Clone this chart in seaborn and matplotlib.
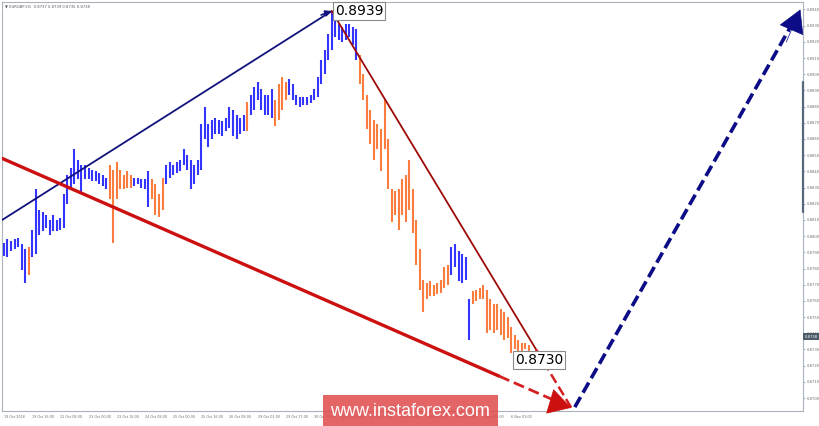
import numpy as np
import pandas as pd
import matplotlib
matplotlib.use("Agg")
import matplotlib.pyplot as plt
import matplotlib.transforms as mtransforms
from matplotlib.patches import Rectangle
import seaborn as sns

# EURGBP H1 price bars, one bar every 2 hours from 19 Oct 2018 00:00
bar_high = [
    0.8796, 0.8798, 0.8797, 0.8798, 0.8799, 0.8795, 0.8792, 0.8793, 0.8804, 0.8829,
    0.8816, 0.8815, 0.8813, 0.8810, 0.8813, 0.8810, 0.8811, 0.8826, 0.8838, 0.8842,
    0.8854, 0.8847, 0.8844, 0.8844, 0.8842, 0.8841, 0.8840, 0.8839, 0.8838, 0.8836,
    0.8844, 0.8841, 0.8846, 0.8841, 0.8838, 0.8840, 0.8838, 0.8836, 0.8836, 0.8835,
    0.8835, 0.8840, 0.8835, 0.8832, 0.8826, 0.8836, 0.8844, 0.8846, 0.8844, 0.8846,
    0.8847, 0.8854, 0.8850, 0.8847, 0.8844, 0.8847, 0.8869, 0.8880, 0.8869, 0.8872,
    0.8873, 0.8872, 0.8871, 0.8873, 0.8880, 0.8878, 0.8875, 0.8873, 0.8875, 0.8883,
    0.8887, 0.8892, 0.8895, 0.8891, 0.8887, 0.8887, 0.8891, 0.8884, 0.8894, 0.8898,
    0.8895, 0.8897, 0.8894, 0.8887, 0.8886, 0.8886, 0.8886, 0.8887, 0.8891, 0.8898,
    0.8909, 0.8915, 0.8925, 0.8939, 0.8934, 0.8931, 0.8929, 0.8931, 0.8931, 0.8929,
    0.8928, 0.8912, 0.8900, 0.8887, 0.8878, 0.8872, 0.8869, 0.8866, 0.8884, 0.8860,
    0.8829, 0.8828, 0.8829, 0.8835, 0.8838, 0.8847, 0.8829, 0.8810, 0.8792, 0.8773,
    0.8771, 0.8772, 0.8770, 0.8771, 0.8773, 0.8781, 0.8782, 0.8793, 0.8795, 0.8791,
    0.8789, 0.8787, 0.8761, 0.8766, 0.8767, 0.8768, 0.8770, 0.8767, 0.8761, 0.8758,
    0.8758, 0.8755, 0.8753, 0.8750, 0.8744, 0.8739, 0.8736, 0.8734, 0.8734, 0.8733,
]
bar_low = [
    0.8788, 0.8787, 0.8791, 0.8792, 0.8793, 0.8779, 0.8771, 0.8776, 0.8787, 0.8789,
    0.8801, 0.8803, 0.8805, 0.8801, 0.8803, 0.8803, 0.8804, 0.8805, 0.8820, 0.8829,
    0.8832, 0.8835, 0.8826, 0.8835, 0.8835, 0.8834, 0.8834, 0.8832, 0.8831, 0.8829,
    0.8823, 0.8796, 0.8823, 0.8829, 0.8829, 0.8830, 0.8830, 0.8831, 0.8832, 0.8830,
    0.8829, 0.8818, 0.8823, 0.8813, 0.8812, 0.8816, 0.8832, 0.8836, 0.8838, 0.8839,
    0.8840, 0.8844, 0.8841, 0.8829, 0.8832, 0.8838, 0.8841, 0.8860, 0.8855, 0.8860,
    0.8863, 0.8863, 0.8862, 0.8865, 0.8867, 0.8862, 0.8860, 0.8863, 0.8865, 0.8865,
    0.8875, 0.8878, 0.8884, 0.8878, 0.8875, 0.8875, 0.8873, 0.8868, 0.8872, 0.8878,
    0.8884, 0.8887, 0.8884, 0.8881, 0.8880, 0.8881, 0.8881, 0.8882, 0.8884, 0.8886,
    0.8894, 0.8900, 0.8909, 0.8915, 0.8923, 0.8921, 0.8920, 0.8921, 0.8923, 0.8918,
    0.8909, 0.8894, 0.8884, 0.8866, 0.8857, 0.8847, 0.8854, 0.8840, 0.8854, 0.8829,
    0.8809, 0.8813, 0.8804, 0.8813, 0.8809, 0.8816, 0.8802, 0.8782, 0.8767, 0.8753,
    0.8761, 0.8763, 0.8763, 0.8764, 0.8765, 0.8768, 0.8770, 0.8776, 0.8781, 0.8772,
    0.8771, 0.8773, 0.8736, 0.8758, 0.8760, 0.8761, 0.8761, 0.8740, 0.8742, 0.8740,
    0.8742, 0.8739, 0.8736, 0.8737, 0.8728, 0.8730, 0.8728, 0.8729, 0.8730, 0.8729,
]
bar_step_hours = 2

# wave colouring of the bars: number of bars in each wave, alternating up / down
wave_lengths = [7, 1, 22, 7, 5, 4, 23, 1, 7, 4, 20, 26, 6, 17]
wave_dirs = ["up", "down"] * 7

time_ticks = [0, 16, 32, 48, 64, 80, 96, 112, 128, 144, 160, 176, 192, 208, 224, 240, 256, 272, 288]
time_labels = [
    "19 Oct 2018", "19 Oct 16:00", "22 Oct 08:00", "23 Oct 00:00", "23 Oct 16:00",
    "24 Oct 08:00", "25 Oct 00:00", "25 Oct 16:00", "26 Oct 08:00", "29 Oct 01:00",
    "29 Oct 17:00", "30 Oct 09:00", "31 Oct 01:00", "31 Oct 17:00", "1 Nov 09:00",
    "2 Nov 01:00", "2 Nov 17:00", "5 Nov 09:00", "6 Nov 01:00",
]
price_ticks = [round(0.8700 + 0.001 * k, 4) for k in range(25)]

# wave markup (hour, price)
up_wave_start = (-1, 0.8810)
channel_start = (-1, 0.8848)
target_low = (322, 0.8694)
target_high = (452, 0.8940)
peak_label = "0.8939"
low_label = "0.8730"
last_price = 0.8738
header = "\u25bc EURGBP,H1  0.8737 0.8739 0.8735 0.8738"

BLUE_BAR = "#3434ff"
ORANGE_BAR = "#fb7d3e"
NAVY = "#12127e"
DARK_RED = "#9e0a0a"
RED = "#cc1010"
DASH_RED = "#d42020"


def main():
    sns.set_style("white")
    plt.rcParams["font.family"] = ["DejaVu Sans"]

    fig = plt.figure(figsize=(8.2, 4.26), dpi=100)
    ax = fig.add_axes([2 / 820, 15 / 426, 801 / 820, 409 / 426])

    df = pd.DataFrame({"high": bar_high, "low": bar_low})
    df["hour"] = np.arange(len(df)) * bar_step_hours
    df["wave"] = np.repeat(wave_dirs, wave_lengths)

    for wave, color in (("up", BLUE_BAR), ("down", ORANGE_BAR)):
        part = df[df["wave"] == wave]
        ax.vlines(part["hour"], part["low"], part["high"], color=color, lw=1.5, zorder=3)

    peak_i = int(np.argmax(bar_high))
    peak = (peak_i * bar_step_hours, bar_high[peak_i])

    # rising wave into the peak
    sns.lineplot(x=[up_wave_start[0], peak[0]], y=[up_wave_start[1], peak[1]],
                 ax=ax, color=NAVY, lw=1.3, zorder=4)
    ax.annotate("", xy=peak, xytext=(peak[0] - 6, peak[1] - 0.00024),
                arrowprops=dict(arrowstyle="-|>", color=NAVY, lw=1.2,
                                mutation_scale=9, shrinkA=0, shrinkB=0), zorder=5)

    # falling wave from the peak and its projection
    split_a = 302
    ya = np.interp(split_a, [peak[0], target_low[0]], [peak[1], target_low[1]])
    sns.lineplot(x=[peak[0], split_a], y=[peak[1], ya], ax=ax, color=DARK_RED, lw=1.3, zorder=4)
    sns.lineplot(x=[split_a, target_low[0]], y=[ya, target_low[1]], ax=ax,
                 color=DASH_RED, lw=1.8, linestyle=(0, (4, 1.8)), zorder=4)

    # lower channel line and its projection
    split_b = 281
    yb = np.interp(split_b, [channel_start[0], target_low[0]], [channel_start[1], target_low[1]])
    sns.lineplot(x=[channel_start[0], split_b], y=[channel_start[1], yb], ax=ax,
                 color=RED, lw=2.4, zorder=4)
    sns.lineplot(x=[split_b, target_low[0]], y=[yb, target_low[1]], ax=ax,
                 color=DASH_RED, lw=2.0, linestyle=(0, (4, 1.8)), zorder=4)
    ax.annotate("", xy=target_low, xytext=(target_low[0] - 8, target_low[1] + 0.00026),
                arrowprops=dict(arrowstyle="-|>,head_length=0.7,head_width=0.4", color=RED,
                                lw=0.5, mutation_scale=22, shrinkA=0, shrinkB=0), zorder=6)

    # projected rise
    end_x = target_high[0] - 5
    end_y = np.interp(end_x, [target_low[0] + 2, target_high[0]], [target_low[1] + 0.00004, target_high[1]])
    sns.lineplot(x=[target_low[0] + 2, end_x], y=[target_low[1] + 0.00004, end_y], ax=ax,
                 color="#0c0c86", lw=2.6, linestyle=(0, (3.2, 1.4)), zorder=4)
    ax.annotate("", xy=target_high, xytext=(end_x - 3, end_y - 0.00105),
                arrowprops=dict(arrowstyle="-|>,head_length=0.7,head_width=0.4", color="#0c0c86",
                                lw=0.5, mutation_scale=22, shrinkA=0, shrinkB=0), zorder=6)

    # price labels
    box = dict(boxstyle="square,pad=0.15", fc="white", ec="#8a8a8a", lw=0.8)
    ax.text(peak[0] + 1.8, peak[1], peak_label, fontsize=10, color="black",
            ha="left", va="center", bbox=box, zorder=7)
    ax.text(290, 0.87235, low_label, fontsize=10, color="black",
            ha="left", va="center", bbox=box, zorder=7)

    ax.set_xlim(-1.1, 453.5)
    ax.set_ylim(0.86920, 0.89446)

    ax.yaxis.tick_right()
    ax.set_yticks(price_ticks)
    ax.set_yticklabels([f"{p:.4f}" for p in price_ticks])
    ax.set_xticks(time_ticks)
    ax.set_xticklabels(time_labels, ha="left")
    ax.tick_params(axis="y", labelsize=2.7, labelcolor="#6e6e6e", colors="#9aa4ae",
                   length=1.5, width=0.6, pad=1)
    ax.tick_params(axis="x", labelsize=2.4, labelcolor="#6e6e6e", colors="#9aa4ae",
                   length=1.5, width=0.6, pad=1.5)
    ax.set_xlabel("")
    ax.set_ylabel("")
    for spine in ax.spines.values():
        spine.set_visible(True)
        spine.set_color("#aab3bc")
        spine.set_linewidth(0.8)

    # dark marker on the price scale
    blend = mtransforms.blended_transform_factory(ax.transAxes, ax.transData)
    ax.plot([1.0, 1.0], [0.8895, 0.8815], color="#56687a", lw=1.6,
            transform=blend, clip_on=False, zorder=6)
    ax.text(1.002, last_price, f"{last_price:.4f}", fontsize=2.7, color="white",
            ha="left", va="center", transform=blend,
            bbox=dict(boxstyle="square,pad=0.3", fc="#4c5b6a", ec="none"), zorder=7)

    ax.text(0.004, 0.994, header, transform=ax.transAxes, fontsize=2.7,
            color="#555555", ha="left", va="top")

    # site watermark
    fig.patches.append(Rectangle((323 / 820, 0), 175 / 820, 31 / 426, transform=fig.transFigure,
                                 fc="#e04a4a", alpha=0.85, ec="none", zorder=10))
    fig.text(410 / 820, 15 / 426, "www.instaforex.com", fontsize=13, color="white",
             family="Liberation Sans", ha="center", va="center", zorder=11)

    fig.savefig("out.png", dpi=100, facecolor="white")


if __name__ == "__main__":
    main()
